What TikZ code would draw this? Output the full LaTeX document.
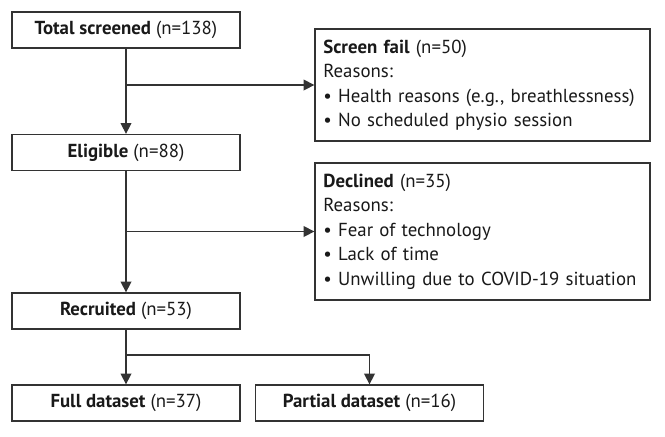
\documentclass[tikz,border=0pt]{standalone}
\usepackage{fontspec}
\setmainfont{PT Sans}
\usepackage{tikz}
\usetikzlibrary{arrows.meta}

\tikzset{
  box/.style={draw=black!80, line width=0.8pt, text=black!90, minimum width=136.8pt, minimum height=21.6pt, inner sep=0pt},
  reasonbox/.style={draw=black!80, line width=0.8pt, text=black!90, text width=191pt, align=left, inner xsep=5pt, inner ysep=0pt},
  flow/.style={draw=black!80, line width=0.9pt, -{Triangle[length=6.5pt,width=6.5pt]}},
  link/.style={draw=black!80, line width=0.9pt}
}

\begin{document}
\begin{tikzpicture}[x=0.6pt, y=-0.6pt, font=\fontsize{11.3}{14.7}\selectfont]
    \useasboundingbox (0,0) rectangle (665,436);
    \coordinate (split) at (126,355);
    \node[box] (total)     at (126,30)    {\textbf{Total screened} (n=138)};
    \node[box] (eligible)  at (126,152.5) {\textbf{Eligible} (n=88)};
    \node[box] (recruited) at (126,311)   {\textbf{Recruited} (n=53)};
    \node[box] (full)      at (126,403)   {\textbf{Full dataset} (n=37)};
    \node[box] (partial)   at (369.5,403) {\textbf{Partial dataset} (n=16)};
    \node[reasonbox, minimum height=67.2pt] (fail) at (482.5,85)
        {\textbf{Screen fail} (n=50)\\ Reasons:\\ \textbullet{} Health reasons (e.g., breathlessness)\\ \textbullet{} No scheduled physio session};
    \node[reasonbox, minimum height=82.2pt] (declined) at (482.5,231.5)
        {\textbf{Declined} (n=35)\\ Reasons:\\ \textbullet{} Fear of technology\\ \textbullet{} Lack of time\\ \textbullet{} Unwilling due to COVID-19 situation};
    \draw[flow] (total) -- (eligible);
    \draw[flow] (total |- fail) -- (fail);
    \draw[flow] (eligible) -- (recruited);
    \draw[flow] (eligible |- declined) -- (declined);
    \draw[link] (recruited) -- (split);
    \draw[flow] (split) -- (full);
    \draw[flow] (split) -| (partial);
\end{tikzpicture}
\end{document}
